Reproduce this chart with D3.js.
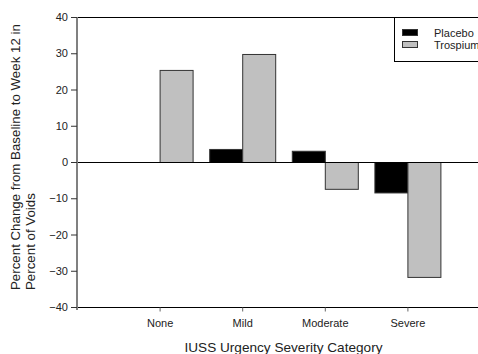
<!DOCTYPE html>
<html>
<head>
<meta charset="utf-8">
<script src="https://cdn.jsdelivr.net/npm/d3@7"></script>
<style>
  html, body { margin: 0; padding: 0; background: #fff; }
  svg { display: block; font-family: "Liberation Sans", Arial, sans-serif; }
</style>
</head>
<body>
<svg id="chart" width="478" height="354"></svg>
<script>
// data
const categories = ['None', 'Mild', 'Moderate', 'Severe'];
const seriesNames = ['Placebo', 'Trospium'];
const placebo = [null, 3.6, 3.1, -8.4];
const trospium = [25.4, 29.8, -7.4, -31.7];
const yTicks = [-40, -30, -20, -10, 0, 10, 20, 30, 40];
const colors = ['#000000', '#c0c0c0'];

const svg = d3.select('#chart');
const plotL = 77, plotR = 490, plotT = 17, plotB = 307;

const x = d3.scalePoint().domain(categories).range([plotL, plotR]).padding(1);
const y = d3.scaleLinear().domain([-40, 40]).range([plotB, plotT]);
const barW = 33;

// frame lines (top, bottom)
svg.append('line').attr('x1', plotL).attr('x2', 478).attr('y1', plotT + 0.5).attr('y2', plotT + 0.5).attr('stroke', '#000');
svg.append('line').attr('x1', plotL).attr('x2', 478).attr('y1', plotB + 0.5).attr('y2', plotB + 0.5).attr('stroke', '#000');

// bars
const rows = [];
categories.forEach((c, i) => {
  [placebo, trospium].forEach((s, k) => {
    if (s[i] != null) rows.push({ cat: c, k, v: s[i] });
  });
});
svg.append('g').selectAll('rect').data(rows).join('rect')
  .attr('x', d => x(d.cat) + (d.k === 0 ? -barW : 0) + 0.5)
  .attr('width', barW)
  .attr('y', d => Math.min(y(d.v), y(0)) + 0.5)
  .attr('height', d => Math.abs(y(d.v) - y(0)))
  .attr('fill', d => colors[d.k])
  .attr('stroke', '#333')
  .attr('stroke-width', 1);

// zero line
svg.append('line').attr('x1', plotL).attr('x2', 478).attr('y1', y(0) + 0.5).attr('y2', y(0) + 0.5).attr('stroke', '#000');

// x axis ticks
const xg = svg.append('g').attr('transform', `translate(0,${plotB + 0.5})`)
  .call(d3.axisBottom(x).tickSize(4).tickPadding(8));
xg.select('.domain').remove();
xg.selectAll('.tick line').attr('stroke', '#666');
xg.selectAll('text').attr('font-size', 11).attr('fill', '#222').attr('font-family', null);

// y axis
const yg = svg.append('g').attr('transform', `translate(${plotL},0)`)
  .call(d3.axisLeft(y).tickValues(yTicks).tickSize(6).tickPadding(3));
yg.select('.domain').attr('stroke', '#808080').attr('stroke-width', 2)
  .attr('d', `M0,${plotT}V${plotB + 3}`);
yg.selectAll('.tick line').attr('stroke', '#333');
yg.selectAll('text').attr('font-size', 11).attr('fill', '#222').attr('font-family', null);

// axis titles
svg.append('text').attr('x', (plotL + plotR) / 2).attr('y', 352).attr('text-anchor', 'middle')
  .attr('font-size', 13.6).attr('fill', '#222').text('IUSS Urgency Severity Category');
const yt = svg.append('text').attr('transform', 'translate(0,290) rotate(-90)')
  .attr('font-size', 13.3).attr('fill', '#222');
yt.append('tspan').attr('x', 0).attr('y', 19.5).text('Percent Change from Baseline to Week 12 in');
yt.append('tspan').attr('x', 0).attr('y', 35).text('Percent of Voids');

// legend
const lg = svg.append('g').attr('transform', 'translate(394,17)');
lg.append('rect').attr('x', 0.5).attr('y', 0.5).attr('width', 120).attr('height', 44)
  .attr('fill', '#fff').attr('stroke', '#000');
seriesNames.forEach((n, i) => {
  lg.append('rect').attr('x', 8.5).attr('y', 12.5 + i * 12).attr('width', 15).attr('height', 6)
    .attr('fill', colors[i]).attr('stroke', '#333');
  lg.append('text').attr('x', 40).attr('y', 20 + i * 12).attr('font-size', 11).attr('fill', '#222').text(n);
});
</script>
</body>
</html>
